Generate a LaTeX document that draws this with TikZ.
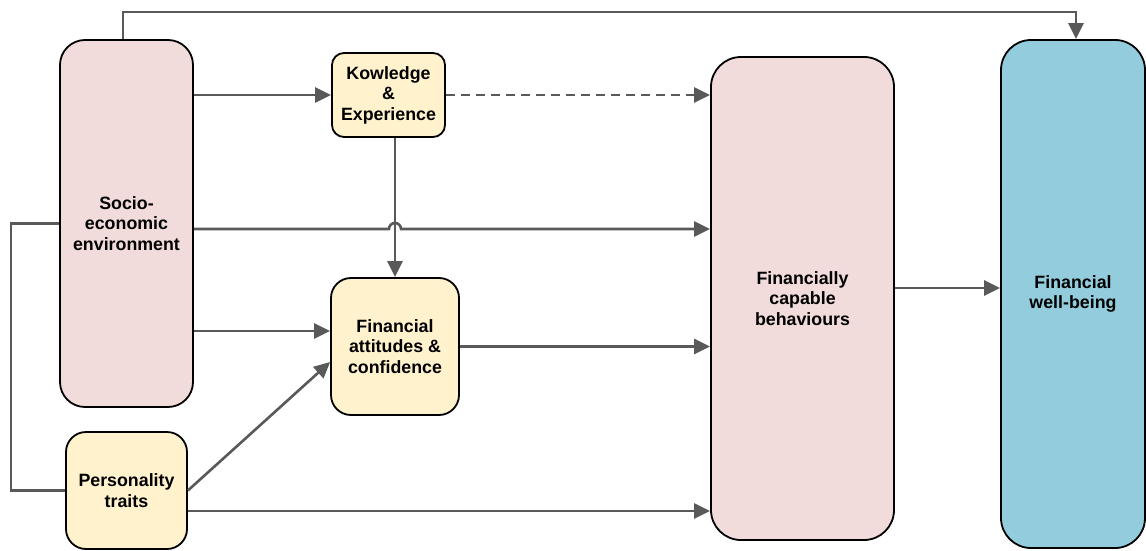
\documentclass[tikz,border=0pt]{standalone}
\usepackage{fontspec}
\setmainfont{Liberation Sans}
\usepackage{tikz}
\usetikzlibrary{arrows.meta, positioning}
\definecolor{pinkfill}{HTML}{F2DCDB}
\definecolor{yellowfill}{HTML}{FFF2CC}
\definecolor{bluefill}{HTML}{93CDDD}
\definecolor{linegray}{HTML}{595959}
\tikzstyle{block} = [rectangle, draw=black, line width=1.8pt, align=center,
                 font=\fontsize{17.8}{20.5}\selectfont\bfseries, inner sep=0pt]
\tikzstyle{link} = [draw=linegray, line width=2.6pt]
\tikzset{
	arr/.style={link, -{Triangle[length=16pt,width=15pt]}},
	dashedarr/.style={arr, dash pattern=on 9pt off 6pt},
	pinkbox/.style={block, fill=pinkfill},
	yellowbox/.style={block, fill=yellowfill},
	bluebox/.style={block, fill=bluefill},
}

\begin{document}
\begin{tikzpicture}[x=1pt, y=-1pt]
\useasboundingbox (0,0) rectangle (1146,551);

\node [pinkbox, rounded corners=25pt, minimum width=133pt, minimum height=367pt]
	at (126.5,223.5) (socio) {Socio-\\economic\\environment};
\node [yellowbox, rounded corners=12pt, minimum width=113pt, minimum height=84pt]
	at (388.5,95) (know) {Kowledge\\\&\\Experience};
\node [yellowbox, rounded corners=20pt, minimum width=128pt, minimum height=137pt]
	at (395,346.5) (att) {Financial\\attitudes \&\\confidence};
\node [yellowbox, rounded corners=20pt, minimum width=121pt, minimum height=117pt]
	at (126.5,490.5) (pers) {Personality\\traits};
\node [pinkbox, rounded corners=30pt, minimum width=183pt, minimum height=483pt]
	at (802.5,298.5) (behav) {Financially\\capable\\behaviours};
\node [bluebox, rounded corners=30pt, minimum width=144pt, minimum height=508pt]
	at (1073,294) (well) {Financial\\well-being};

% end points off the anchors
\coordinate (soc out) at ([yshift=-5.5pt]socio.east);
\coordinate (hop) at (att.north |- soc out);
\coordinate (att in a) at ([yshift=15.5pt]att.west);
\coordinate (att in b) at ([yshift=-15.5pt]att.west);
\coordinate (pers out) at ([yshift=-20.5pt]pers.east);
\coordinate (behav out) at ([yshift=10.5pt]behav.east);

\path[arr] (socio.east |- know.west) -- (know.west);
\path[dashedarr] (know.east) -- (know.east -| behav.west);
\path[arr] (att.north |- know.south) -- (att.north);
\path[arr] (soc out) -- ([xshift=-6pt]hop)
	arc[start angle=180, end angle=0, radius=6pt] -- (hop -| behav.west);
\path[arr] (socio.east |- att in a) -- (att in a);
\path[arr] (att.east) -- (att.east -| behav.west);
\path[arr] (pers.east) -- (att in b);
\path[arr] (pers out) -- (pers out -| behav.west);
\path[arr] (behav out) -- (behav out -| well.west);
\path[arr] ([xshift=-3.5pt]socio.north) -- ++(0,-27) -| ([xshift=3pt]well.north);
\path[link] (socio.west) -- ++(-48,0) |- (pers.west);

\end{tikzpicture}
\end{document}
